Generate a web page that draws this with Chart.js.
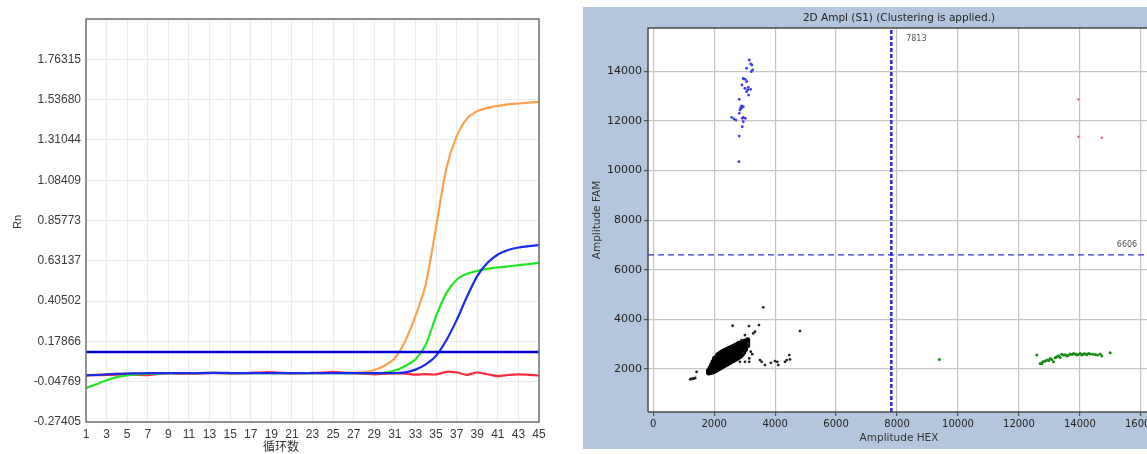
<!DOCTYPE html>
<html>
<head>
<meta charset="utf-8">
<script src="https://cdn.jsdelivr.net/npm/chart.js@4.4.1/dist/chart.umd.min.js"></script>
<style>
html,body{margin:0;padding:0;background:#fff;width:1147px;height:454px;overflow:hidden;position:relative;}
#c1{position:absolute;left:0;top:0;width:560px;height:454px;}
#c2{position:absolute;left:583px;top:7px;width:600px;height:442px;background:#b3c6de;}
</style>
</head>
<body>
<canvas id="c1" width="560" height="454"></canvas>
<canvas id="c2" width="600" height="442"></canvas>
<script>
// ---------- Left chart data (qPCR amplification) ----------
const cycles = Array.from({length:45},(_,i)=>String(i+1));
const yTicksL = [-0.27405,-0.04769,0.17866,0.40502,0.63137,0.85773,1.08409,1.31044,1.53680,1.76315,1.98951];
const threshold = 0.1196;
const orangeCurve = [-0.010,-0.008,-0.005,-0.003,-0.002,-0.001,0,0,0.001,0,0,0.001,0.002,0.001,0,0.001,0.001,0.002,0.001,0,0.001,0.001,0,0.001,0.002,0.002,0.003,0.006,0.018,0.042,0.085,0.180,0.320,0.500,0.820,1.150,1.330,1.430,1.472,1.490,1.502,1.510,1.515,1.520,1.523];
const greenCurve = [-0.083,-0.062,-0.040,-0.022,-0.012,-0.007,-0.004,-0.002,0,0,0,0.001,0.002,0.001,0,0.001,0,0,0.001,0,0,0.001,0,0,0.001,0,0,0,0.001,0.004,0.015,0.040,0.078,0.160,0.320,0.450,0.525,0.558,0.575,0.586,0.594,0.600,0.607,0.613,0.620];
const blueCurve = [-0.012,-0.010,-0.007,-0.004,-0.002,-0.001,0,0,0,0.001,0,0,0.001,0.002,0.001,0,0.001,0,0,0,0.001,0,0,0.001,0,0,0,0,0.001,0,0.001,0.005,0.020,0.050,0.098,0.185,0.298,0.429,0.545,0.620,0.667,0.692,0.706,0.714,0.720];
const redCurve = [-0.012,-0.011,-0.010,-0.008,-0.008,-0.009,-0.011,-0.004,0,-0.002,-0.003,-0.001,0.002,0,-0.001,0,0.002,0.004,0.006,0.002,-0.001,0,0.002,0.003,0.008,0.002,0,-0.002,-0.006,-0.002,-0.001,-0.002,-0.008,-0.005,-0.007,0.008,0.004,-0.009,0.004,-0.006,-0.016,-0.010,-0.006,-0.009,-0.013];

// ---------- Right chart data (2D amplitude) ----------
const xTicksR = [0,2000,4000,6000,8000,10000,12000,14000,16000];
const yTicksR = [2000,4000,6000,8000,10000,12000,14000];
const xMinR = -170, xMaxR = 16300, yMinR = 270, yMaxR = 15750;
const hexThreshold = 7813, famThreshold = 6606;
const famX = [3153,3240,3262,3218,3065,2956,3021,3065,2912,3010,3120,3196,3065,3131,2824,2901,2956,2890,2846,2824,2573,2649,2715,2923,2956,3021,2956,2923,2824,2813,2880,2960,3100,3200];
const famY = [14460,14258,14056,13989,14124,13720,13680,13586,13452,13317,13358,13277,13183,13048,12874,12605,12578,12511,12444,12309,12148,12081,12040,12108,12148,12108,11973,11771,11395,10360,12560,13700,13250,14300];
const hexX = [9390,12586,12695,12783,12751,12915,13024,13132,13242,13352,13460,13570,13680,13789,13898,14009,14118,14228,14337,14501,14665,14720,14993,13078,13188,13300,13400,13520,13620,13740,13850,13950,14060,14170,14280,14420,14580,12850,12980];
const hexY = [2390,2565,2229,2296,2230,2363,2431,2294,2496,2470,2565,2524,2605,2633,2565,2633,2605,2577,2605,2592,2605,2524,2659,2390,2457,2540,2600,2580,2560,2590,2610,2590,2570,2620,2630,2600,2570,2320,2350];
const dpX = [13953,13953,14720];
const dpY = [12874,11368,11328];
const negBlobCols = [
 [1820,[1850,1940]],[1870,[1870,1960,2050]],[1920,[1880,1970,2070,2170]],
 [1970,[1900,2000,2100,2200,2300]],[2020,[1930,2030,2130,2230,2330,2430]],
 [2070,[1960,2060,2160,2260,2360,2460]],[2120,[2000,2100,2200,2300,2400,2500,2570]],
 [2170,[2030,2130,2230,2330,2430,2530,2610]],[2220,[2070,2170,2270,2370,2470,2570,2650]],
 [2270,[2100,2200,2300,2400,2500,2600,2690]],[2320,[2140,2240,2340,2440,2540,2640,2730]],
 [2370,[2170,2270,2370,2470,2570,2670,2760]],[2420,[2210,2310,2410,2510,2610,2710,2790]],
 [2470,[2250,2350,2450,2550,2650,2750,2820]],[2520,[2280,2380,2480,2580,2680,2780,2850]],
 [2570,[2320,2420,2520,2620,2720,2820,2880]],[2620,[2350,2450,2550,2650,2750,2850,2910]],
 [2670,[2390,2490,2590,2690,2790,2890,2940]],[2720,[2420,2520,2620,2720,2820,2920,2970]],
 [2770,[2460,2560,2660,2760,2860,2960,3000]],[2820,[2500,2600,2700,2800,2900,3000,3040]],
 [2870,[2540,2640,2740,2840,2940,3050]],[2920,[2600,2700,2800,2900,3000,3080]],
 [2970,[2680,2780,2880,2980,3100]],[3030,[2800,2900,3000,3130]],[3100,[2950,3060,3180]]
];
const negOutX = [3612,2606,3142,3470,4816,3283,3339,3010,2902,3119,2955,2846,3010,3153,3153,3559,3503,3667,3864,3995,4104,4071,4380,4465,4324,4488,1424,1220,1260,1300,1340,1380,3200,3250];
const negOutY = [4488,3747,3734,3774,3532,3439,3505,3371,3169,3036,2633,2294,2294,2431,2294,2294,2363,2161,2254,2323,2161,2294,2363,2565,2294,2390,1891,1590,1600,1610,1625,1640,2700,2600];

// ---------- Left chart ----------
const frameL = {
  id:'frameL',
  afterDraw(chart){
    const {ctx, chartArea:a} = chart;
    ctx.save();
    ctx.strokeStyle = '#6e6e6e'; ctx.lineWidth = 1.5;
    ctx.strokeRect(a.left, a.top, a.right-a.left, a.bottom-a.top);
    ctx.fillStyle = '#333';
    ctx.font = '12px "Noto Sans CJK SC"';
    ctx.textAlign = 'center'; ctx.textBaseline = 'middle';
    ctx.fillText('循环数', 281, 446);
    ctx.translate(18, 222); ctx.rotate(-Math.PI/2);
    ctx.font = '11px "Liberation Sans"';
    ctx.fillText('Rn', 0, 0);
    ctx.restore();
  }
};
const lineDs = (data, color, w) => ({data, borderColor:color, borderWidth:w, pointRadius:0, tension:0.25, fill:false});
new Chart(document.getElementById('c1'), {
  type:'line',
  data:{labels:cycles, datasets:[
    lineDs(cycles.map(()=>threshold), '#0000dc', 2.5),
    lineDs(blueCurve, '#1a2af0', 2.2),
    lineDs(greenCurve, '#22e622', 2.2),
    lineDs(redCurve, '#ff2a40', 2.2),
    lineDs(orangeCurve, '#ffa04e', 2.2)
  ]},
  options:{
    responsive:false, animation:false,
    layout:{padding:{left:0, top:19, right:21, bottom:0}},
    plugins:{legend:{display:false}, tooltip:{enabled:false}},
    scales:{
      x:{type:'category', offset:false,
        border:{display:false},
        grid:{drawTicks:false, color:(c)=> (c.index%2===0 ? '#ebebeb' : 'rgba(0,0,0,0)'), lineWidth:1},
        ticks:{autoSkip:false, maxRotation:0, padding:5, color:'#3a3a3a', font:{family:'Liberation Sans', size:12},
          callback:(v,i)=> (i%2===0 ? cycles[i] : '')},
        afterFit(s){ s.height = 32; }
      },
      y:{type:'linear', min:yTicksL[0], max:yTicksL[yTicksL.length-1],
        border:{display:false},
        grid:{drawTicks:false, color:'#ebebeb', lineWidth:1},
        afterBuildTicks(s){ s.ticks = yTicksL.map(v=>({value:v})); },
        ticks:{padding:5, color:'#3a3a3a', font:{family:'Liberation Sans', size:12},
          callback:(v,i)=> (i===yTicksL.length-1 ? '' : Number(v).toFixed(5))},
        afterFit(s){ s.width = 86; }
      }
    }
  },
  plugins:[frameL]
});

// ---------- Right chart ----------
const pts = (xs, ys) => xs.map((x,i)=>({x, y:ys[i]}));
const negPts = [];
negBlobCols.forEach(([x, ys]) => ys.forEach(y => negPts.push({x, y})));
const plotDecor = {
  id:'plotDecor',
  beforeDraw(chart){
    const {ctx, chartArea:a} = chart;
    ctx.save(); ctx.fillStyle = '#ffffff';
    ctx.fillRect(a.left, a.top, a.right-a.left, a.bottom-a.top);
    ctx.restore();
  },
  afterDraw(chart){
    const {ctx, chartArea:a, scales} = chart;
    ctx.save();
    ctx.strokeStyle = '#4a4a4a'; ctx.lineWidth = 1.5;
    ctx.beginPath(); ctx.moveTo(a.left, a.bottom); ctx.lineTo(a.left, a.top); ctx.lineTo(a.right, a.top); ctx.stroke();
    ctx.beginPath(); ctx.moveTo(a.left, a.bottom); ctx.lineTo(a.right, a.bottom); ctx.stroke();
    ctx.fillStyle = '#222';
    ctx.font = '10.5px "DejaVu Sans"';
    ctx.textAlign = 'center'; ctx.textBaseline = 'middle';
    ctx.fillText('2D Ampl (S1) (Clustering is applied.)', (a.left+a.right)/2, 11);
    ctx.fillStyle = '#555';
    ctx.font = '8px "DejaVu Sans"';
    ctx.fillText(String(hexThreshold), scales.x.getPixelForValue(hexThreshold)+25, a.top+11);
    ctx.fillText(String(famThreshold), a.right-23, scales.y.getPixelForValue(famThreshold)-10);
    ctx.restore();
  }
};
new Chart(document.getElementById('c2'), {
  type:'scatter',
  data:{datasets:[
    {data:[{x:hexThreshold,y:yMinR},{x:hexThreshold,y:yMaxR}], showLine:true, borderColor:'#2a2ae0', borderWidth:2.5, borderDash:[4,2], pointRadius:0},
    {data:[{x:xMinR,y:famThreshold},{x:xMaxR,y:famThreshold}], showLine:true, borderColor:'#3030e6', borderWidth:1.2, borderDash:[6,4], pointRadius:0},
    {data:pts(famX,famY), backgroundColor:'#3a3af0', borderWidth:0, pointRadius:1.4},
    {data:pts(dpX,dpY), backgroundColor:'#e86060', borderWidth:0, pointRadius:1.2},
    {data:pts(hexX,hexY), backgroundColor:'#138a13', borderWidth:0, pointRadius:1.5},
    {data:pts(negOutX,negOutY), backgroundColor:'#222', borderWidth:0, pointRadius:1.4},
    {data:negPts, backgroundColor:'#000', borderWidth:0, pointRadius:2.6}
  ]},
  options:{
    responsive:false, animation:false,
    layout:{padding:{left:0, top:21, right:33, bottom:0}},
    plugins:{legend:{display:false}, tooltip:{enabled:false}},
    scales:{
      x:{type:'linear', min:xMinR, max:xMaxR,
        border:{display:false},
        grid:{color:'#c6c6c6', lineWidth:1.2, tickLength:4, tickColor:'#555'},
        afterBuildTicks(s){ s.ticks = xTicksR.map(v=>({value:v})); },
        ticks:{padding:2, color:'#222', font:{family:'DejaVu Sans', size:10}, maxRotation:0, callback:(v)=>String(v)},
        title:{display:true, text:'Amplitude HEX', color:'#333', font:{family:'DejaVu Sans', size:10.5}, padding:{top:0,bottom:4}},
        afterFit(s){ s.height = 37; }
      },
      y:{type:'linear', min:yMinR, max:yMaxR,
        border:{display:false},
        grid:{color:'#c6c6c6', lineWidth:1.2, tickLength:4, tickColor:'#555'},
        afterBuildTicks(s){ s.ticks = yTicksR.map(v=>({value:v})); },
        ticks:{padding:2, color:'#222', font:{family:'DejaVu Sans', size:11}, callback:(v)=>String(v)},
        title:{display:true, text:'Amplitude FAM', color:'#333', font:{family:'DejaVu Sans', size:10.5}, padding:{top:8,bottom:0}},
        afterFit(s){ s.width = 65; }
      }
    }
  },
  plugins:[plotDecor]
});
</script>
</body>
</html>
